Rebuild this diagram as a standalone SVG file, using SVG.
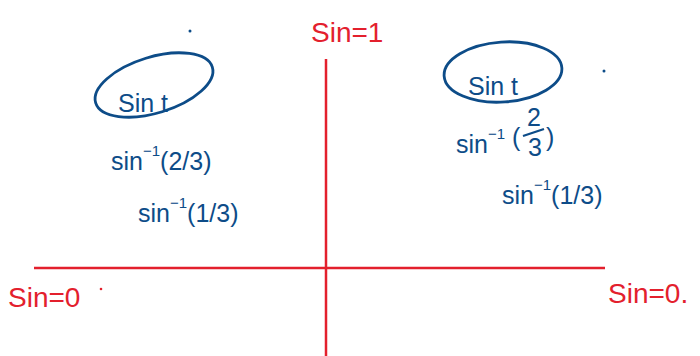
<svg xmlns="http://www.w3.org/2000/svg" width="700" height="356" viewBox="0 0 700 356">
<style>
.red{fill:#e3202d;font-family:"Liberation Sans",Arial,sans-serif;font-size:28px}
.blue{fill:#0d4c88;font-family:"Liberation Sans",Arial,sans-serif;font-size:25px}
.sup{font-size:15px}
.axis{stroke:#e3202d;stroke-width:2.5;fill:none}
.ring{stroke:#0d4c88;stroke-width:2.8;fill:none}
.dot{fill:#0d4c88}
</style>
<rect width="700" height="356" fill="#ffffff"/>
<g id="connectors">
<line class="axis" x1="326" y1="59" x2="326" y2="356"/>
<line class="axis" x1="34" y1="268" x2="605" y2="268"/>
</g>
<g id="label-top"><text class="red" x="311" y="42">Sin=1</text></g>
<g id="label-left"><text class="red" x="8" y="307">Sin=0</text><circle cx="101" cy="289" r="1.3" fill="#e3202d"/></g>
<g id="label-right"><text class="red" x="608" y="303">Sin=0.</text></g>
<g id="left-group">
<circle class="dot" cx="190" cy="31" r="1.5"/>
<ellipse class="ring" cx="154" cy="85" rx="61" ry="28" transform="rotate(-17 154 85)"/>
<text class="blue" x="118" y="112" font-size="28">Sin t</text>
<text class="blue" x="111" y="170">sin<tspan class="sup" dy="-14">−1</tspan><tspan dy="14">(2/3)</tspan></text>
<text class="blue" x="138" y="222">sin<tspan class="sup" dy="-14">−1</tspan><tspan dy="14">(1/3)</tspan></text>
</g>
<g id="right-group">
<circle class="dot" cx="604" cy="71" r="1.5"/>
<ellipse class="ring" cx="503" cy="72" rx="59" ry="30" transform="rotate(-4 503 72)"/>
<text class="blue" x="468" y="95" font-size="28">Sin t</text>
<text class="blue" x="456" y="153">sin<tspan class="sup" dy="-14">−1</tspan></text>
<text class="blue" x="512" y="146" font-size="32">(</text>
<text class="blue" x="527" y="126" font-size="17">2</text>
<line x1="523" y1="136" x2="544" y2="129" stroke="#0d4c88" stroke-width="2.2"/>
<text class="blue" x="528" y="156" font-size="17">3</text>
<text class="blue" x="546" y="146" font-size="32">)</text>
<text class="blue" x="502" y="204">sin<tspan class="sup" dy="-14">−1</tspan><tspan dy="14">(1/3)</tspan></text>
</g>
</svg>
